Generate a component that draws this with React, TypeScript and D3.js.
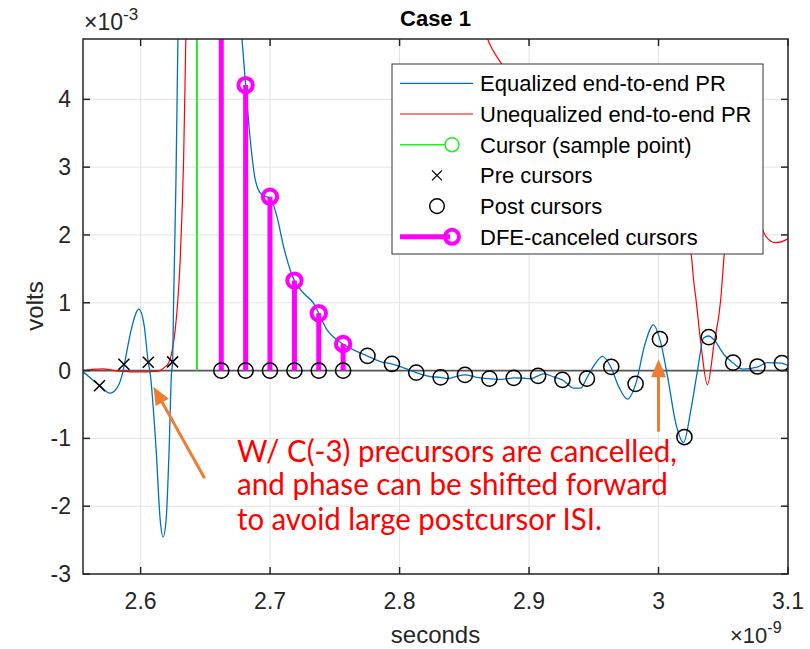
import React from 'react';
import * as d3 from 'd3';

// ---------- data ----------
const xTicks = [2.6, 2.7, 2.8, 2.9, 3.0, 3.1];
const xTickLabels = ['2.6', '2.7', '2.8', '2.9', '3', '3.1'];
const yTicks = [-3, -2, -1, 0, 1, 2, 3, 4];
const yTickLabels = ['-3', '-2', '-1', '0', '1', '2', '3', '4'];

// Equalized end-to-end pulse response (ns, mV)
const eqT = [2.5555, 2.5648, 2.5687, 2.5762, 2.5818, 2.5865, 2.5875, 2.5927, 2.5986, 2.6027, 2.6059, 2.6071, 2.612, 2.6151, 2.6174, 2.6197, 2.622, 2.6238, 2.6247, 2.6255, 2.6273, 2.6288, 2.631, 2.64, 2.65, 2.66, 2.67, 2.6783, 2.6811, 2.6847, 2.6886, 2.6937, 2.7002, 2.7053, 2.7104, 2.7156, 2.7187, 2.7259, 2.7336, 2.7375, 2.744, 2.7517, 2.7561, 2.7646, 2.7749, 2.7852, 2.7937, 2.8007, 2.813, 2.8239, 2.8316, 2.837, 2.844, 2.8504, 2.8595, 2.8695, 2.8788, 2.8883, 2.8974, 2.9012, 2.9069, 2.9115, 2.919, 2.9257, 2.9347, 2.9399, 2.9443, 2.95, 2.9567, 2.9631, 2.9693, 2.976, 2.9824, 2.9894, 2.9961, 3.001, 3.007, 3.0134, 3.0193, 3.025, 3.0302, 3.0348, 3.0387, 3.043, 3.0508, 3.0573, 3.065, 3.0761, 3.0843, 3.0946, 3.1016];
const eqV = [-0.015, -0.167, -0.225, -0.333, -0.255, 0.0, 0.094, 0.6, 0.905, 0.67, 0.124, 0.0, -1.17, -2.2, -2.455, -2.2, -1.17, -0.05, 0.128, 1.04, 2.81, 4.89, 7.5, 11, 12, 10, 7, 4.89, 4.21, 3.4, 2.81, 2.59, 2.54, 2.27, 1.83, 1.48, 1.33, 1.14, 0.99, 0.846, 0.6, 0.45, 0.393, 0.305, 0.217, 0.133, 0.099, 0.06, -0.03, -0.088, -0.1, -0.12, -0.085, -0.064, -0.1, -0.12, -0.13, -0.107, -0.115, -0.12, -0.078, -0.05, -0.093, -0.137, -0.26, -0.26, -0.12, 0.07, 0.21, 0.055, -0.24, -0.42, -0.196, 0.38, 0.675, 0.463, -0.09, -0.78, -1.06, -0.58, 0.01, 0.48, 0.51, 0.45, 0.23, 0.118, 0.02, 0.05, 0.118, 0.109, 0.06];

// Unequalized end-to-end pulse response (ns, mV)
const uneqT = [2.5555, 2.5632, 2.571, 2.5787, 2.5865, 2.5996, 2.6112, 2.6151, 2.6189, 2.6213, 2.6244, 2.6267, 2.6286, 2.6305, 2.6321, 2.6332, 2.6349, 2.637, 2.64, 2.7, 2.8, 2.86, 2.868, 2.8719, 2.8797, 2.9, 2.94, 2.98, 3.01, 3.02, 3.0254, 3.027, 3.029, 3.0327, 3.0378, 3.0429, 3.048, 3.0506, 3.055, 3.065, 3.075, 3.0808, 3.0859, 3.091, 3.0995, 3.1];
const uneqV = [0.0, 0.018, 0.025, 0.003, -0.012, -0.02, -0.012, 0.003, 0.055, 0.1, 0.3, 0.6, 1.0, 1.6, 2.4, 3.1, 4.89, 7, 10, 14, 9, 5.5, 4.89, 4.73, 4.5, 3.9, 3.0, 2.4, 2.1, 1.95, 1.68, 1.35, 1.04, 0.4, -0.21, 0.4, 1.04, 1.68, 2.4, 2.8, 2.5, 2.06, 1.92, 1.886, 1.94, 1.95];

// Main cursor (sample point)
const cursorT = [2.6435];
const cursorV = [12];

// Pre cursors
const preT = [2.5682, 2.5871, 2.6059, 2.6247];
const preV = [-0.225, 0.094, 0.124, 0.128];

// Post cursors (after DFE cancellation)
const postT = [2.6623, 2.6811, 2.6999, 2.7188, 2.7376, 2.7564, 2.7752, 2.7941, 2.8129, 2.8317, 2.8505, 2.8694, 2.8882, 2.907, 2.9258, 2.9447, 2.9635, 2.9823, 3.0011, 3.02, 3.0388, 3.0576, 3.0764, 3.0953];
const postV = [0, 0, 0, 0, 0, 0, 0.217, 0.099, -0.03, -0.1, -0.064, -0.12, -0.107, -0.078, -0.137, -0.12, 0.055, -0.196, 0.463, -0.98, 0.492, 0.118, 0.06, 0.109];

// DFE-canceled cursors
const dfeT = [2.6623, 2.6811, 2.6999, 2.7188, 2.7376, 2.7564];
const dfeV = [6.3, 4.21, 2.565, 1.327, 0.846, 0.393];

const legendLabels = [
  'Equalized end-to-end PR',
  'Unequalized end-to-end PR',
  'Cursor (sample point)',
  'Pre cursors',
  'Post cursors',
  'DFE-canceled cursors',
];

const noteLines = [
  'W/ C(-3) precursors are cancelled,',
  'and phase can be shifted forward',
  'to avoid large postcursor ISI.',
];

// ---------- layout ----------
const W = 810, H = 649;
const L = 83, T = 39, R = 788, B = 574;
const FONT = '"Liberation Sans", Arial, Helvetica, sans-serif';
const BLUE = '#0072BD';
const RED = '#FF0000';
const GREEN = '#22EE22';
const MAG = '#FF00FF';
const ORANGE = '#ED7D31';
const AX = '#262626';

const x = d3.scaleLinear().domain([2.5555, 3.1]).range([L, R]);
const y = d3.scaleLinear().domain([-3, 4.89]).range([B, T]);

const lineGen = d3.line<[number, number]>()
  .x(d => x(d[0]))
  .y(d => y(d[1]))
  .curve(d3.curveMonotoneX);

function Arrow({ x1, y1, x2, y2 }: { x1: number; y1: number; x2: number; y2: number }) {
  const dx = x2 - x1, dy = y2 - y1;
  const len = Math.hypot(dx, dy);
  const ux = dx / len, uy = dy / len;
  const hl = 18, hw = 7.5;
  const bx = x2 - ux * hl, by = y2 - uy * hl;
  const px = -uy, py = ux;
  const pts = `${x2},${y2} ${bx + px * hw},${by + py * hw} ${bx - px * hw},${by - py * hw}`;
  return (
    <g>
      <line x1={x1} y1={y1} x2={bx + ux * 2} y2={by + uy * 2} stroke={ORANGE} strokeWidth={3} />
      <polygon points={pts} fill={ORANGE} />
    </g>
  );
}

export default function App() {
  const eqData = eqT.map((t, i) => [t, eqV[i]] as [number, number]);
  const uneqData = uneqT.map((t, i) => [t, uneqV[i]] as [number, number]);
  const y0 = y(0);
  const legX = 392, legY = 64, legW = 371, legH = 190;
  const rowY = (i: number) => 83.3 + i * 30.7;

  return (
    <svg width={W} height={H} style={{ position: 'absolute', left: 0, top: 0, background: '#fff' }} fontFamily={FONT}>
      <defs>
        <clipPath id="plotClip">
          <rect x={L} y={T} width={R - L} height={B - T} />
        </clipPath>
      </defs>
      <rect x={0} y={0} width={W} height={H} fill="#fff" />
      {/* grid */}
      <g stroke="#E3E3E3" strokeWidth={1}>
        {xTicks.map(v => <line key={'gx' + v} x1={x(v)} x2={x(v)} y1={T} y2={B} />)}
        {yTicks.map(v => <line key={'gy' + v} x1={L} x2={R} y1={y(v)} y2={y(v)} />)}
      </g>

      <g clipPath="url(#plotClip)">
        {/* stem baseline */}
        <line x1={L} x2={R} y1={y0} y2={y0} stroke="#555" strokeWidth={1.6} />
        {/* unequalized */}
        <path d={lineGen(uneqData) || ''} fill="none" stroke={RED} strokeWidth={1.2} />
        {/* equalized */}
        <path d={lineGen(eqData) || ''} fill="none" stroke={BLUE} strokeWidth={1.3} />
        {/* cursor */}
        {cursorT.map((t, i) => (
          <g key={'c' + i}>
            <line x1={x(t)} x2={x(t)} y1={y0} y2={y(cursorV[i])} stroke={GREEN} strokeWidth={2} />
            <circle cx={x(t)} cy={y(cursorV[i])} r={7} fill="none" stroke={GREEN} strokeWidth={1.5} />
          </g>
        ))}
        {/* DFE canceled stems */}
        {dfeT.map((t, i) => (
          <g key={'d' + i}>
            <line x1={x(t)} x2={x(t)} y1={y0} y2={y(dfeV[i])} stroke={MAG} strokeWidth={5} />
            <circle cx={x(t)} cy={y(dfeV[i])} r={7.2} fill="none" stroke={MAG} strokeWidth={4} />
          </g>
        ))}
        {/* post cursors */}
        {postT.map((t, i) => (
          <circle key={'p' + i} cx={x(t)} cy={y(postV[i])} r={7.6} fill="none" stroke="#000" strokeWidth={1.5} />
        ))}
        {/* pre cursors */}
        {preT.map((t, i) => {
          const cx = x(t), cy = y(preV[i]), s = 5.5;
          return (
            <g key={'x' + i} stroke="#000" strokeWidth={1.5}>
              <line x1={cx - s} y1={cy - s} x2={cx + s} y2={cy + s} />
              <line x1={cx - s} y1={cy + s} x2={cx + s} y2={cy - s} />
            </g>
          );
        })}
      </g>

      {/* axes box */}
      <rect x={L} y={T} width={R - L} height={B - T} fill="none" stroke={AX} strokeWidth={1.5} />
      <g stroke={AX} strokeWidth={1.5}>
        {xTicks.map(v => (
          <g key={'tx' + v}>
            <line x1={x(v)} x2={x(v)} y1={B} y2={B - 7} />
            <line x1={x(v)} x2={x(v)} y1={T} y2={T + 7} />
          </g>
        ))}
        {yTicks.map(v => (
          <g key={'ty' + v}>
            <line x1={L} x2={L + 7} y1={y(v)} y2={y(v)} />
            <line x1={R} x2={R - 7} y1={y(v)} y2={y(v)} />
          </g>
        ))}
      </g>
      {/* tick labels */}
      <g fill={AX} fontSize={23}>
        {xTicks.map((v, i) => (
          <text key={'lx' + v} x={x(v)} y={609} textAnchor="middle">{xTickLabels[i]}</text>
        ))}
        {yTicks.map((v, i) => (
          <text key={'ly' + v} x={71} y={y(v) + 8} textAnchor="end">{yTickLabels[i]}</text>
        ))}
      </g>
      {/* exponents */}
      <text x={84} y={30} fontSize={23} fill={AX}>×10<tspan dy={-10} fontSize={17}>-3</tspan></text>
      <text x={730} y={643} fontSize={22} fill={AX}>×10<tspan dy={-10} fontSize={16}>-9</tspan></text>
      {/* axis labels */}
      <text x={435.5} y={643} fontSize={24} fill={AX} textAnchor="middle">seconds</text>
      <text transform={`translate(43,306) rotate(-90)`} fontSize={24} fill={AX} textAnchor="middle">volts</text>
      {/* title */}
      <text x={435.5} y={26} fontSize={22} fontWeight="bold" fill="#000" textAnchor="middle">Case 1</text>

      {/* legend */}
      <rect x={legX} y={legY} width={legW} height={legH} fill="#fff" stroke="#333" strokeWidth={1} />
      <line x1={400} x2={473} y1={rowY(0)} y2={rowY(0)} stroke={BLUE} strokeWidth={1.3} />
      <line x1={400} x2={473} y1={rowY(1)} y2={rowY(1)} stroke={RED} strokeWidth={1.2} />
      <line x1={400} x2={445} y1={rowY(2)} y2={rowY(2)} stroke={GREEN} strokeWidth={1.5} />
      <circle cx={452} cy={rowY(2)} r={7} fill="none" stroke={GREEN} strokeWidth={1.5} />
      <g stroke="#000" strokeWidth={1.3}>
        <line x1={432} y1={rowY(3) - 5} x2={442} y2={rowY(3) + 5} />
        <line x1={432} y1={rowY(3) + 5} x2={442} y2={rowY(3) - 5} />
      </g>
      <circle cx={437} cy={rowY(4)} r={7.3} fill="none" stroke="#000" strokeWidth={1.5} />
      <line x1={400} x2={450} y1={rowY(5)} y2={rowY(5)} stroke={MAG} strokeWidth={5} />
      <circle cx={452} cy={rowY(5)} r={7} fill="none" stroke={MAG} strokeWidth={4} />
      <g fontSize={22} fill="#000">
        {legendLabels.map((s, i) => (
          <text key={'lg' + i} x={480} y={rowY(i) + 8}>{s}</text>
        ))}
      </g>

      {/* annotations */}
      <Arrow x1={x(2.6494)} y1={y(-1.587)} x2={x(2.6099)} y2={y(-0.237)} />
      <Arrow x1={x(3.0)} y1={y(-0.9)} x2={x(3.0)} y2={y(0.168)} />
      <g fontFamily="Lato, 'Open Sans', sans-serif" fontSize={30} fill={RED}>
        <text x={x(2.6744)} y={y(-1.341)} textLength={440} lengthAdjust="spacingAndGlyphs">{noteLines[0]}</text>
        <text x={x(2.6744)} y={y(-1.832)} textLength={431} lengthAdjust="spacingAndGlyphs">{noteLines[1]}</text>
        <text x={x(2.6744)} y={y(-2.348)} textLength={365} lengthAdjust="spacingAndGlyphs">{noteLines[2]}</text>
      </g>
    </svg>
  );
}
